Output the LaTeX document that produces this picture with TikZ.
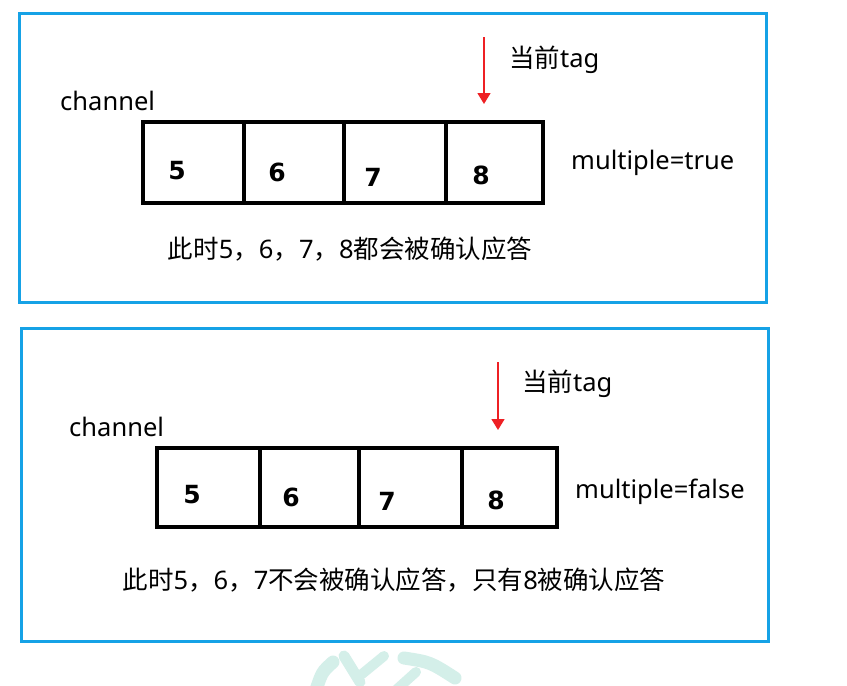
\documentclass[tikz,border=0pt]{standalone}
\usepackage{fontspec}
\setmainfont{Noto Sans}
\newfontfamily\cjk{Noto Sans CJK SC}
\newfontfamily\numfont{DejaVu Sans}
\usetikzlibrary{arrows.meta}
\definecolor{frameblue}{RGB}{22,162,230}
\definecolor{arrowred}{RGB}{238,32,36}
\definecolor{wmark}{RGB}{212,239,233}
\begin{document}
\begin{tikzpicture}[x=1pt,y=-1pt,
  frame/.style={draw=frameblue,line width=3pt,inner sep=0},
  cell/.style={draw=black,line width=3.5pt,inner sep=0},
  num/.style={font=\numfont\bfseries\fontsize{25}{25}\selectfont,inner sep=0},
  lbl/.style={font=\fontsize{25.5}{25.5}\selectfont,inner sep=0},
  tagarrow/.style={draw=arrowred,line width=1.5pt,-{Triangle[width=13pt,length=11pt]}},
  wm/.style={draw=wmark,line cap=round,line width=13pt}]
\useasboundingbox (0,0) rectangle (847,686);
\fill[white] (0,0) rectangle (847,686);

% watermark fragment
\draw[wm] (316,690) .. controls (322,672) .. (333,662);
\draw[wm,line width=11pt] (344,656) -- (360,682);
\draw[wm,line width=10pt] (362,674) -- (384,656);
\draw[wm,line width=13pt] (404,658) .. controls (430,662) .. (455,678);
\draw[wm,line width=10pt] (396,690) -- (416,672);

% ---------- top panel ----------
\node[frame,minimum width=747pt,minimum height=289pt] (f1) at (392.5,157.5) {};
\node[cell,minimum width=101pt,minimum height=81pt] (a1) at (193.5,162.5) {};
\node[cell,minimum width=100pt,minimum height=81pt] (a2) at (294,162.5) {};
\node[cell,minimum width=102pt,minimum height=81pt] (a3) at (395,162.5) {};
\node[cell,minimum width=97pt,minimum height=81pt] (a4) at (494.5,162.5) {};
\node[num] (n1) at (177,171) {5};
\node[num] (n2) at (277,172) {6};
\node[num] (n3) at (373,177) {7};
\node[num] (n4) at (481,175) {8};
\coordinate (t1) at (484,37);
\coordinate (h1) at (484,104);
\draw[tagarrow] (t1) -- (h1);
\node[lbl,anchor=west] (tag1) at (509,60) {{\cjk 当前}tag};
\node[lbl,anchor=west] (ch1) at (60,101) {channel};
\node[lbl,anchor=west] (m1) at (571,163) {multiple=true};
\node[lbl] (cap1) at (350,249) {{\cjk 此时}5{\cjk ，}6{\cjk ，}7{\cjk ，}8{\cjk 都会被确认应答}};

% ---------- bottom panel ----------
\node[frame,minimum width=747pt,minimum height=313pt] (f2) at (394.5,485) {};
\node[cell,minimum width=103pt,minimum height=79pt] (b1) at (208.5,487.5) {};
\node[cell,minimum width=99pt,minimum height=79pt] (b2) at (309.5,487.5) {};
\node[cell,minimum width=103pt,minimum height=79pt] (b3) at (410.5,487.5) {};
\node[cell,minimum width=95pt,minimum height=79pt] (b4) at (509.5,487.5) {};
\node[num] (m5) at (192,495) {5};
\node[num] (m6) at (291,497) {6};
\node[num] (m7) at (387,501) {7};
\node[num] (m8) at (496,500) {8};
\coordinate (t2) at (498,362);
\coordinate (h2) at (498,430);
\draw[tagarrow] (t2) -- (h2);
\node[lbl,anchor=west] (tag2) at (522,384) {{\cjk 当前}tag};
\node[lbl,anchor=west] (ch2) at (69,427) {channel};
\node[lbl,anchor=west] (m2) at (575,492) {multiple=false};
\node[lbl] (cap2) at (394,580) {{\cjk 此时}5{\cjk ，}6{\cjk ，}7{\cjk 不会被确认应答，只有}8{\cjk 被确认应答}};
\end{tikzpicture}
\end{document}
